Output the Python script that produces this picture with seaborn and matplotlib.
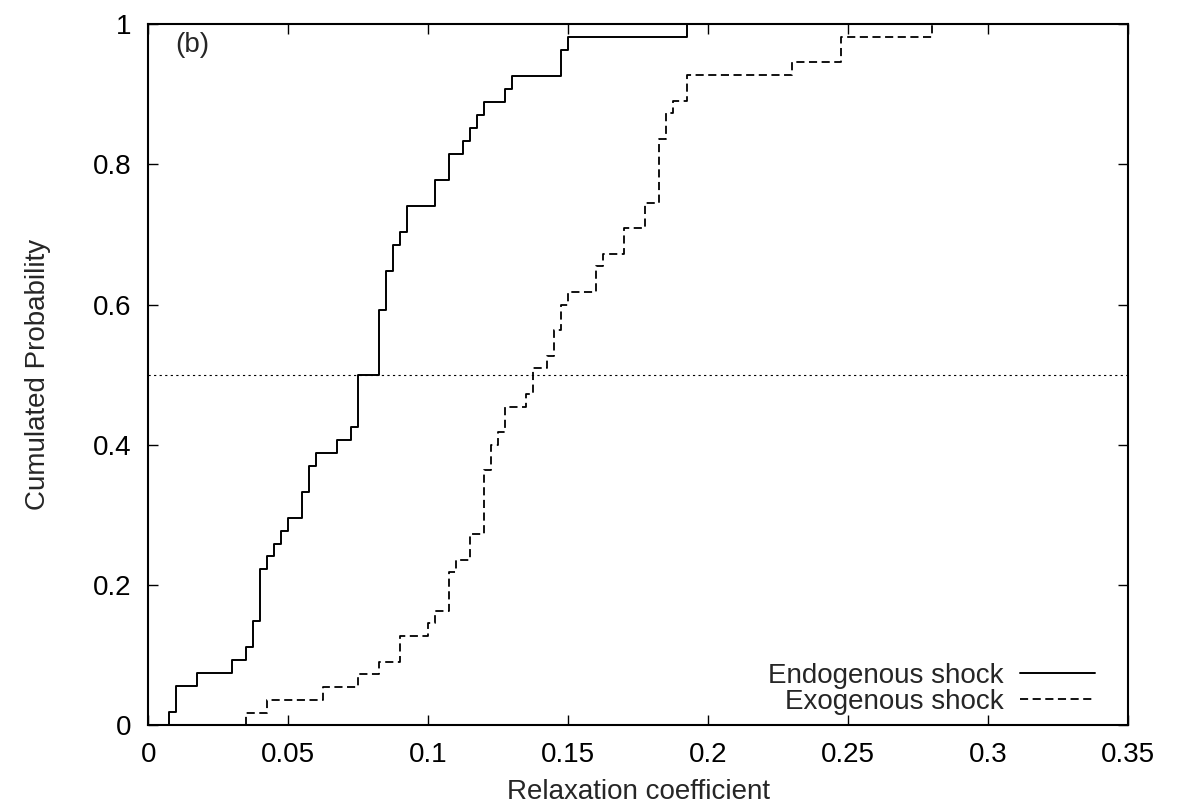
import numpy as np
import matplotlib
matplotlib.use("Agg")
import matplotlib.pyplot as plt
import seaborn as sns

endo_values = [0.0075, 0.01, 0.0175, 0.03, 0.035, 0.0375, 0.04, 0.0425, 0.045, 0.0475,
               0.05, 0.055, 0.0575, 0.06, 0.0675, 0.0725, 0.075, 0.0825, 0.085, 0.0875,
               0.09, 0.0925, 0.1025, 0.1075, 0.1125, 0.115, 0.1175, 0.12, 0.1275, 0.13,
               0.1475, 0.15, 0.1925]
endo_counts = [1, 2, 1, 1, 1, 2, 4, 1, 1, 1,
               1, 2, 2, 1, 1, 1, 4, 5, 3, 2,
               1, 2, 2, 2, 1, 1, 1, 1, 1, 1,
               2, 1, 1]

exo_values = [0.035, 0.0425, 0.0625, 0.075, 0.0825, 0.09, 0.1, 0.1025, 0.1075, 0.11,
              0.115, 0.12, 0.1225, 0.125, 0.1275, 0.135, 0.1375, 0.1425, 0.145, 0.1475,
              0.15, 0.16, 0.1625, 0.17, 0.1775, 0.1825, 0.185, 0.1875, 0.1925, 0.23,
              0.2475, 0.28]
exo_counts = [1, 1, 1, 1, 1, 2, 1, 1, 3, 1,
              2, 5, 2, 1, 2, 1, 2, 1, 2, 2,
              1, 2, 1, 2, 2, 5, 2, 1, 2, 1,
              2, 1]

endo = np.repeat(endo_values, endo_counts)
exo = np.repeat(exo_values, exo_counts)

x_ticks = [0, 0.05, 0.1, 0.15, 0.2, 0.25, 0.3, 0.35]
x_tick_labels = ["0", "0.05", "0.1", "0.15", "0.2", "0.25", "0.3", "0.35"]
y_ticks = [0, 0.2, 0.4, 0.6, 0.8, 1]
y_tick_labels = ["0", "0.2", "0.4", "0.6", "0.8", "1"]

sns.set_style("ticks")
plt.rcParams["font.family"] = ["Liberation Sans", "DejaVu Sans"]
fs = 20

fig = plt.figure(figsize=(11.84, 8.06), dpi=100)
ax = fig.add_axes([0.1253, 0.1001, 0.8272, 0.8701])

sns.ecdfplot(x=endo, ax=ax, color="black", lw=1.4, label="Endogenous shock")
sns.ecdfplot(x=exo, ax=ax, color="black", lw=1.3, linestyle=(0, (4.5, 2.5)),
             label="Exogenous shock")
ax.axhline(0.5, color="black", lw=0.8, linestyle=(0, (2, 3)))

ax.set_xlim(0, 0.35)
ax.set_ylim(0, 1)
ax.set_xticks(x_ticks)
ax.set_xticklabels(x_tick_labels)
ax.set_yticks(y_ticks)
ax.set_yticklabels(y_tick_labels)
ax.tick_params(direction="in", length=7, width=1, top=True, right=True,
               labelsize=fs, pad=12, color="black", labelcolor="black")
for s in ax.spines.values():
    s.set_linewidth(1.5)
    s.set_color("black")

ax.set_xlabel("Relaxation coefficient", fontsize=fs, labelpad=8)
ax.set_ylabel("Cumulated Probability", fontsize=fs, labelpad=30)
ax.text(0.0095, 0.97, "(b)", fontsize=fs, ha="left", va="center")

ax.legend(loc="lower right", bbox_to_anchor=(0.967, 0.015), frameon=False,
          markerfirst=False, fontsize=fs, handlelength=2.7, handletextpad=0.6,
          labelspacing=0.0, borderpad=0, borderaxespad=0)

fig.savefig("out.png", dpi=100)
